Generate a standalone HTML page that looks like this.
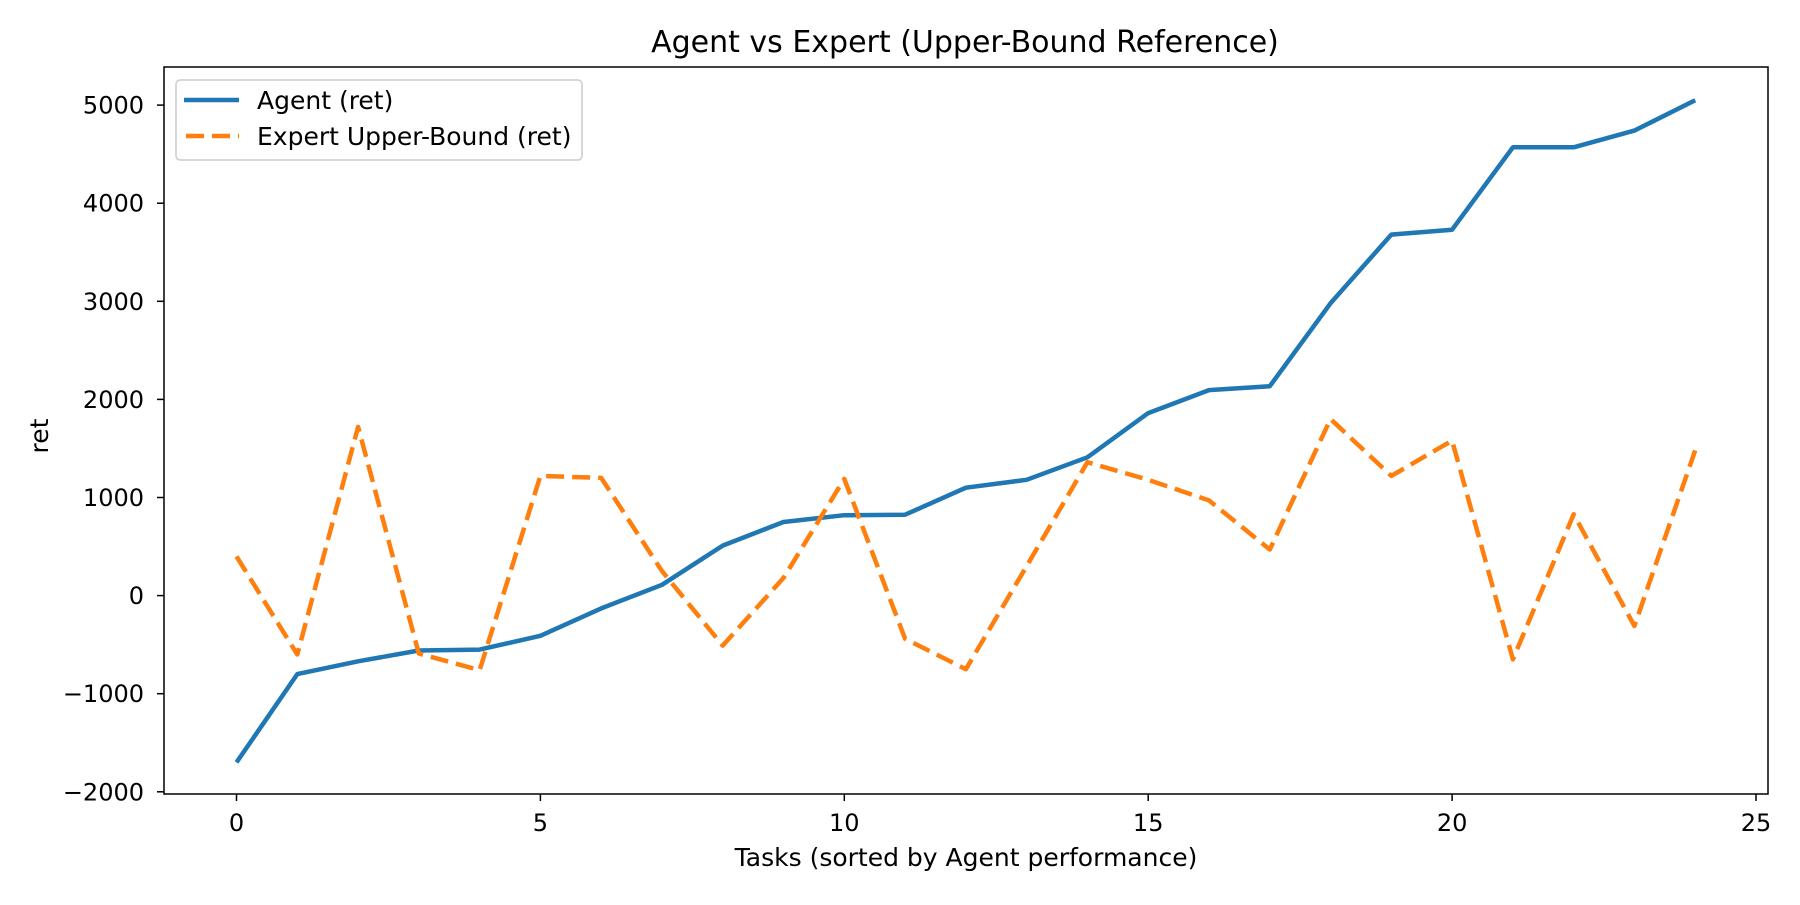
<!DOCTYPE html>
<html><head><meta charset="utf-8"><style>
html,body{margin:0;padding:0;background:#fff;}
svg text{font-family:"DejaVu Sans","Liberation Sans",sans-serif;fill:#000;}
</style></head><body>
<svg id="chart" width="1800" height="900" viewBox="0 0 1800 900" xmlns="http://www.w3.org/2000/svg">
<rect width="1800" height="900" fill="#fff"/>
<text x="965" y="52" font-size="30" text-anchor="middle">Agent vs Expert (Upper-Bound Reference)</text>
<g id="plot"></g>
<text x="966" y="866" font-size="25" text-anchor="middle">Tasks (sorted by Agent performance)</text>
<text x="48" y="436" font-size="25" text-anchor="middle" transform="rotate(-90 48 436)">ret</text>
<g>
<rect x="176" y="80" width="406" height="80" rx="4" fill="#fff" fill-opacity="0.8" stroke="#ccc" stroke-width="1.5"/>
<line x1="184" y1="100" x2="239" y2="100" stroke="#1f77b4" stroke-width="4.5"/>
<text x="257" y="109" font-size="25">Agent (ret)</text>
<line x1="186" y1="136" x2="239" y2="136" stroke="#ff7f0e" stroke-width="4.5" stroke-dasharray="18,8"/>
<text x="257" y="145" font-size="25">Expert Upper-Bound (ret)</text>
</g>
</svg>
<script>
const tasks = [0,1,2,3,4,5,6,7,8,9,10,11,12,13,14,15,16,17,18,19,20,21,22,23,24];
const agentValues = [-1700,-800,-670,-560,-550,-410,-130,110,510,750,820,825,1100,1180,1410,1860,2095,2135,2980,3680,3730,4570,4570,4740,5050];
const expertValues = [400,-600,1720,-590,-760,1220,1200,250,-510,180,1190,-440,-750,300,1360,1180,970,470,1800,1220,1580,-650,830,-310,1480];
const xTicks = [0,5,10,15,20,25];
const yTicks = [-2000,-1000,0,1000,2000,3000,4000,5000];

const L=164,T=67,R=1768,B=794;
function xs(v){return 236.5+(v)*60.78;}
function ys(v){return 595.6-v*0.0981;}
const NS='http://www.w3.org/2000/svg';
const plot=document.getElementById('plot');
function mk(tag,attrs,parent){const e=document.createElementNS(NS,tag);for(const k in attrs)e.setAttribute(k,attrs[k]);(parent||plot).appendChild(e);return e;}

function series(vals,color,dash,name){
  const d=vals.map((v,i)=>(i?'L':'M')+xs(tasks[i]).toFixed(1)+','+ys(v).toFixed(1)).join(' ');
  const p=mk('path',{d:d,fill:'none',stroke:color,'stroke-width':4.5,'stroke-linejoin':'round'});
  if(dash)p.setAttribute('stroke-dasharray',dash);
  
  
}
series(agentValues,'#1f77b4',null,'agent-line');
series(expertValues,'#ff7f0e','18,8','expert-line');

const frame=mk('rect',{x:L,y:T,width:R-L,height:B-T,fill:'none',stroke:'#000','stroke-width':1.5});



xTicks.forEach(t=>{
  const x=xs(t);
  const ln=mk('line',{x1:x,y1:B,x2:x,y2:B+7,stroke:'#000','stroke-width':1.5});
  
  
  const tx=mk('text',{x:x,y:831,'font-size':24,'text-anchor':'middle'});
  tx.textContent=t;
  
  
});
yTicks.forEach(t=>{
  const y=ys(t);
  const ln=mk('line',{x1:L-7,y1:y,x2:L,y2:y,stroke:'#000','stroke-width':1.5});
  
  
  const tx=mk('text',{x:L-20,y:y+8.5,'font-size':24,'text-anchor':'end'});
  tx.textContent=t<0?'\u2212'+Math.abs(t):String(t);
  
  
});
</script>
</body></html>
